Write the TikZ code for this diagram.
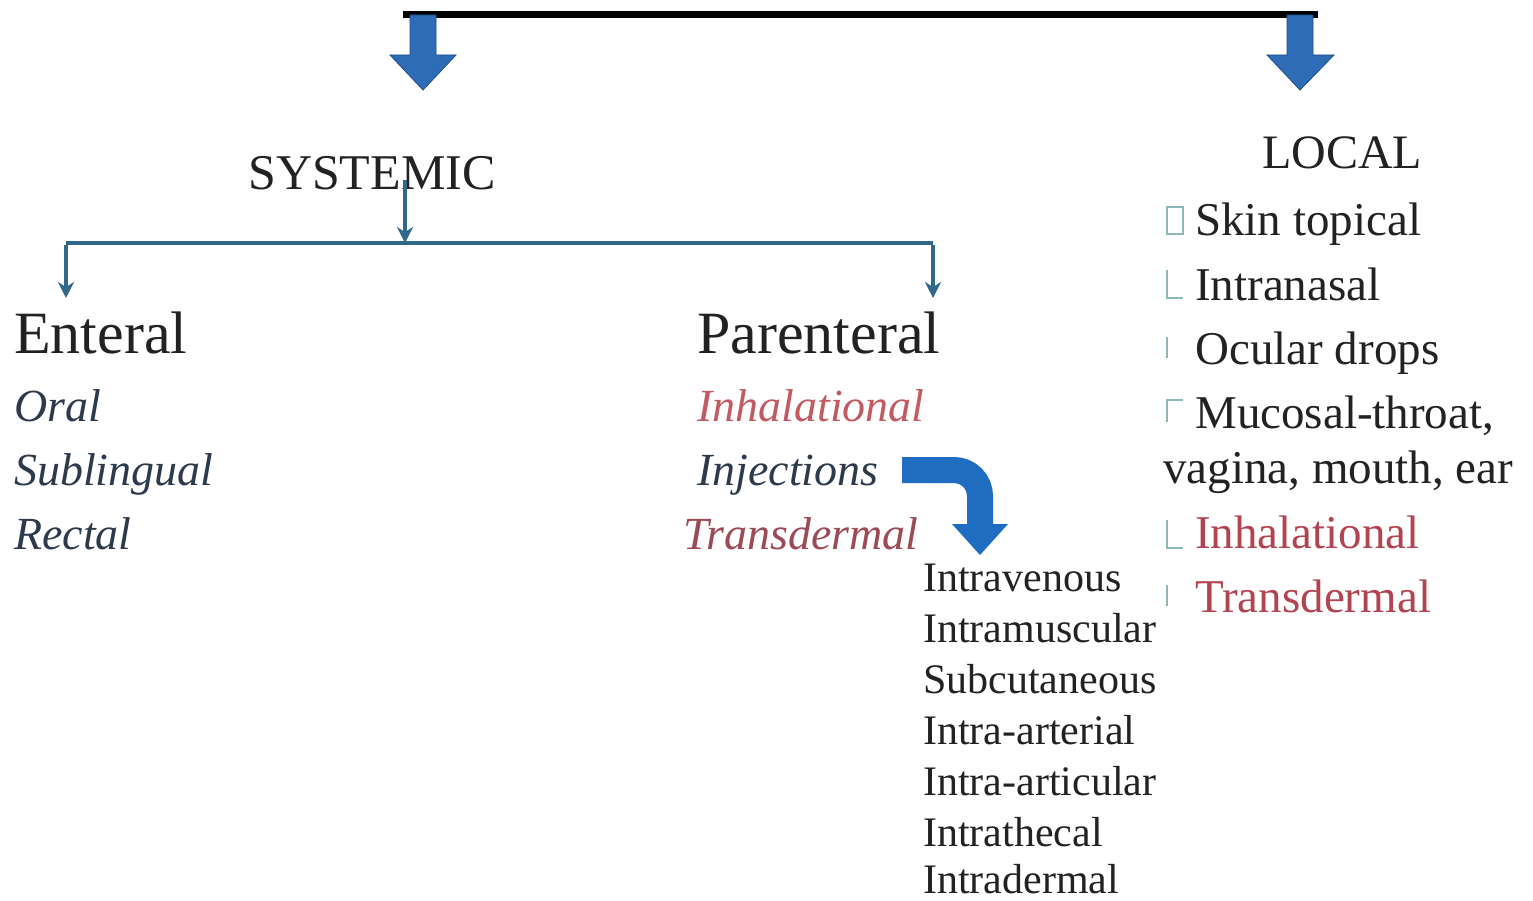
\documentclass[tikz,border=0pt]{standalone}
\usepackage{fontspec}
\setmainfont{Liberation Serif}
\usetikzlibrary{arrows.meta}
\definecolor{txt}{HTML}{222222}
\definecolor{slate}{HTML}{2C3A4C}
\definecolor{pinkred}{HTML}{C25A62}
\definecolor{brownred}{HTML}{9C4A56}
\definecolor{locred}{HTML}{B24452}
\definecolor{blk}{HTML}{2E6CB8}
\definecolor{blkdark}{HTML}{1E4E86}
\definecolor{curv}{HTML}{1F6DC0}
\definecolor{conn}{HTML}{2F6888}
\definecolor{bul}{HTML}{8CB8B8}
\tikzset{
  x=1pt, y=-1pt,
  lbl/.style={anchor=base west, inner sep=0pt, text=txt},
  headtxt/.style={lbl, font=\fontsize{60}{60}\selectfont},
  captxt/.style={lbl, font=\fontsize{50}{50}\selectfont},
  ital/.style={lbl, font=\fontsize{46}{46}\selectfont\itshape, text=slate},
  loc/.style={lbl, font=\fontsize{47}{47}\selectfont},
  inj/.style={lbl, font=\fontsize{42}{42}\selectfont},
  thin conn/.style={draw=conn, line width=3.5pt, -{Stealth[length=16pt,width=16pt]}},
  bar/.style={draw=conn, line width=4pt},
  blockfill/.style={fill=blk, draw=blkdark, line width=0.8pt},
  bulmark/.style={draw=bul, line width=1.4pt},
}
\begin{document}
\begin{tikzpicture}
\useasboundingbox[fill=white] (0,0) rectangle (1533,901);

% top bracket with block arrows
\coordinate (tl) at (423,15);
\coordinate (tr) at (1300,15);
\coordinate (tlend) at (423,90);
\coordinate (trend) at (1300,90);
\draw[black, line width=7pt] ([xshift=-20pt]tl) -- ([xshift=18pt]tr);
\fill[blockfill] (410,15) -- (436,15) -- (436,55) -- (456,55) -- (tlend) -- (390,55) -- (410,55) -- cycle;
\fill[blockfill] (1287,15) -- (1313,15) -- (1313,55) -- (1334,55) -- (trend) -- (1267,55) -- (1287,55) -- cycle;

% headings
\node[captxt] (sys) at (248,190) {SYSTEMIC};
\node[captxt, font=\fontsize{48}{48}\selectfont] (local) at (1262,169) {LOCAL};

% systemic branching
\coordinate (sysj) at (405,243);
\coordinate (entj) at (66,243);
\coordinate (parj) at (933,243);
\draw[thin conn] (405,180) -- (sysj);
\draw[bar] (entj) -- (parj);
\node[headtxt] (ent) at (14,353) {Enteral};
\node[headtxt] (par) at (697,353) {Parenteral};
\draw[thin conn] ([yshift=-2pt]entj) -- (66,298);
\draw[thin conn] ([yshift=-2pt]parj) -- (933,298);

% enteral
\node[ital] (oral) at (14,421) {Oral};
\node[ital] (subl) at (14,485) {Sublingual};
\node[ital] (rect) at (14,549) {Rectal};

% parenteral
\node[ital, text=pinkred] (inh) at (697,421) {Inhalational};
\node[ital] (injn) at (697,485) {Injections};
\node[ital, text=brownred] (trans) at (683,549) {Transdermal};

% curved block arrow
\coordinate (cstart) at (902,470);
\coordinate (ctip) at (980,555);
\draw[curv, line width=26pt, rounded corners=26pt] (cstart) -| (980,526);
\fill[curv] (952,524) -- (1008,524) -- (ctip) -- cycle;

% injection routes
\node[inj] (iv) at (923,591) {Intravenous};
\node[inj] (im) at (923,642) {Intramuscular};
\node[inj] (sc) at (923,693) {Subcutaneous};
\node[inj] (ia) at (923,744) {Intra-arterial};
\node[inj] (iar) at (923,795) {Intra-articular};
\node[inj] (ith) at (923,846) {Intrathecal};
\node[inj] (id) at (923,893) {Intradermal};

% local items
\node[loc] (skin) at (1195,236) {Skin topical};
\node[loc] (nasal) at (1195,300) {Intranasal};
\node[loc] (ocul) at (1195,364) {Ocular drops};
\node[loc] (muc) at (1195,428) {Mucosal-throat,};
\node[loc] (vag) at (1163,483) {vagina, mouth, ear};
\node[loc, text=locred] (linh) at (1195,548) {Inhalational};
\node[loc, text=locred] (ltrans) at (1195,612) {Transdermal};

% missing-glyph bullet marks
\draw[bulmark] (1167,207) rectangle (1183,234);
\draw[bulmark] (1167,270) -- (1167,298) -- (1183,298);
\draw[bulmark] (1167,337) -- (1167,358);
\draw[bulmark] (1183,400) -- (1167,400) -- (1167,422);
\draw[bulmark] (1167,520) -- (1167,548) -- (1183,548);
\draw[bulmark] (1167,585) -- (1167,606);
\end{tikzpicture}
\end{document}
